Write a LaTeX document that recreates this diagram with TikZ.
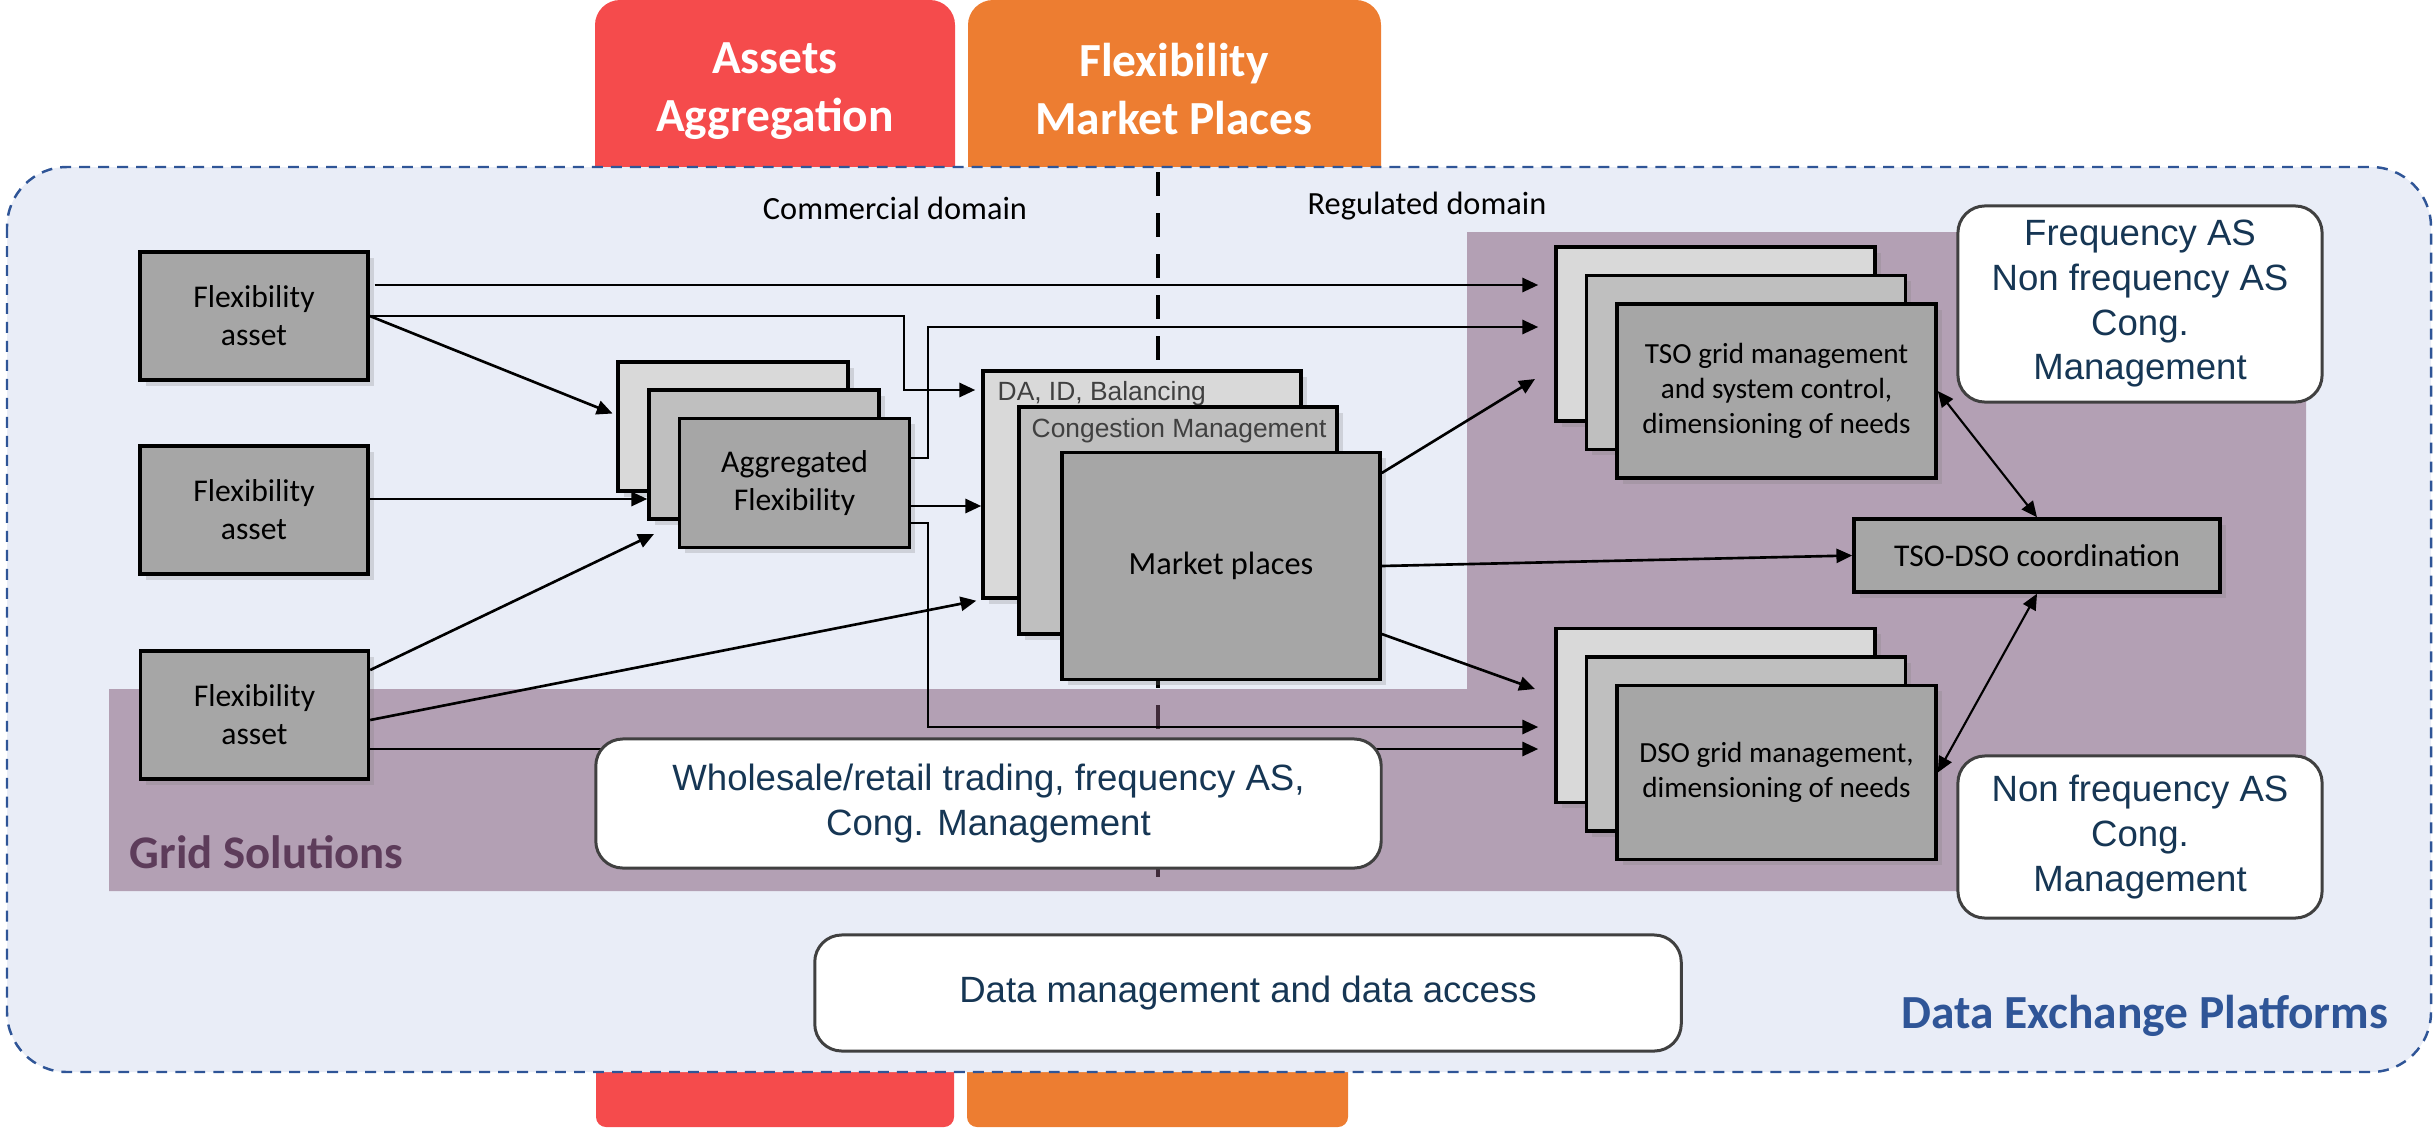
\documentclass[tikz,border=0pt]{standalone}
\usepackage{fontspec}
\setmainfont{Carlito}
\newfontfamily\arialfont{Liberation Sans}
\usetikzlibrary{arrows.meta,shadows}
\definecolor{frameblue}{RGB}{47,85,151}
\definecolor{paleblue}{RGB}{233,237,247}
\definecolor{gridpurple}{RGB}{127,85,115}
\definecolor{gridtext}{RGB}{93,60,90}
\definecolor{aggred}{RGB}{245,75,76}
\definecolor{mktorange}{RGB}{237,125,49}
\definecolor{navytext}{RGB}{22,54,84}
\definecolor{infogrey}{RGB}{64,64,64}
\definecolor{labelgrey}{RGB}{64,64,64}
\definecolor{greyA}{RGB}{166,166,166}
\definecolor{greyB}{RGB}{191,191,191}
\definecolor{greyC}{RGB}{217,217,217}

\begin{document}
\begin{tikzpicture}[x=0.01cm,y=-0.01cm,every text node part/.style={align=center},
box/.style={draw=black,line width=0.95pt,inner sep=0pt,drop shadow={shadow xshift=1.6pt,shadow yshift=-1.6pt,opacity=0.25}},
flexbox/.style={box,fill=greyA,minimum width=2.28cm,minimum height=1.28cm,font=\fontsize{9}{10.8}\selectfont},
aggbox/.style={box,minimum width=2.3cm,minimum height=1.29cm,font=\fontsize{9}{10.8}\selectfont},
mktbox/.style={box,minimum width=3.18cm,minimum height=2.27cm,font=\fontsize{9.2}{11}\selectfont},
gridbox/.style={box,minimum width=3.19cm,minimum height=1.74cm,font=\fontsize{8.3}{9.9}\selectfont},
infobox/.style={draw=infogrey,line width=0.85pt,fill=white,rounded corners=0.27cm,text=navytext,inner sep=0pt,font=\arialfont\fontsize{10.4}{12.7}\selectfont},
mktlabel/.style={anchor=base west,inner sep=0pt,text=labelgrey,font=\arialfont\fontsize{7.5}{9}\selectfont},
headtext/.style={text=white,font=\fontsize{13.5}{16.4}\selectfont\bfseries},
domaintext/.style={anchor=base,font=\fontsize{9.2}{11}\selectfont},
arr/.style={-{Triangle[length=4.5pt,width=4pt]},line width=0.75pt},
darr/.style={{Triangle[length=4.5pt,width=4pt]}-{Triangle[length=4.5pt,width=4pt]},line width=0.6pt}]
\useasboundingbox (0,0) rectangle (2433,1130);
\fill[aggred,rounded corners=0.25cm] (595,0) rectangle (955,220);
\fill[mktorange,rounded corners=0.25cm] (968,0) rectangle (1381,220);
\fill[aggred,rounded corners=0.1cm] (596,1030) rectangle (954,1127);
\fill[mktorange,rounded corners=0.1cm] (967,1030) rectangle (1348,1127);
\draw[frameblue,fill=paleblue,line width=0.7pt,dash pattern=on 3.1pt off 2.3pt,rounded corners=0.6cm] (7,167) rectangle (2431,1072);
\node[headtext] (aggtitle) at (775,91) {Assets\\Aggregation};
\node[headtext] (mkttitle) at (1174,89) {Flexibility\\Market Places};
\draw[line width=1.4pt,dash pattern=on 0.24cm off 0.17cm] (1158,172) -- (1158,877);
\fill[gridpurple,fill opacity=0.5] (109,689) -- (1467,689) -- (1467,232) -- (2306,232) -- (2306,891) -- (109,891) -- cycle;
\node[anchor=base west,inner sep=0pt,text=gridtext,font=\fontsize{13.3}{16}\selectfont\bfseries] (gridlabel) at (129,868) {Grid Solutions};
\node[anchor=base east,inner sep=0pt,text=frameblue,font=\fontsize{13.5}{16}\selectfont\bfseries] (dxplabel) at (2389,1028) {Data Exchange Platforms};
\node[domaintext] (commercial) at (895,219) {Commercial domain};
\node[domaintext] (regulated) at (1427,214) {Regulated domain};
\node[flexbox] (flexA) at (254,316) {Flexibility\\asset};
\node[flexbox] (flexB) at (254,510) {Flexibility\\asset};
\node[flexbox] (flexC) at (254.5,715) {Flexibility\\asset};
\node[aggbox,fill=greyC] (aggback) at (733,426.5) {};
\node[aggbox,fill=greyB] (aggmid) at (764,454.5) {};
\node[aggbox,fill=greyA] (aggfront) at (794.5,483) {Aggregated\\Flexibility};
\node[mktbox,fill=greyC] (da) at (1142,484.5) {};
\node[mktlabel] (dalabel) at (997,400) {DA, ID, Balancing};
\node[mktbox,fill=greyB] (cong) at (1178,520.5) {};
\node[mktlabel] (conglabel) at (1031,437) {Congestion Management};
\node[mktbox,fill=greyA] (market) at (1221,566) {Market places};
\node[gridbox,fill=greyC] (tsoback) at (1715.5,334) {};
\node[gridbox,fill=greyB] (tsomid) at (1746,362.5) {};
\node[gridbox,fill=greyA] (tsofront) at (1776.5,391) {TSO grid management\\and system control,\\dimensioning of needs};
\node[gridbox,fill=greyC] (dsoback) at (1715.5,715.5) {};
\node[gridbox,fill=greyB] (dsomid) at (1746,744) {};
\node[gridbox,fill=greyA] (dsofront) at (1776.5,772.5) {DSO grid management,\\dimensioning of needs};
\node[box,fill=greyA,minimum width=3.66cm,minimum height=0.73cm,font=\fontsize{9}{11}\selectfont] (tsodso) at (2037,555.5) {TSO-DSO coordination};
\coordinate (aggin) at (654,534);
\coordinate (tsoin) at (1535,379);
\coordinate (dsoin) at (1535,689);
\draw[arr,shorten <=0.05cm,shorten >=0.16cm] (flexA.east |- 0,285) -- (tsoback.west |- 0,285);
\draw[arr,shorten >=0.06cm] (flexA.east) -| (904,390) -- (da.west |- 0,390);
\draw[arr,shorten >=0.04cm] (flexA.east) -- (aggback.west |- 0,415);
\draw[arr] (flexB.east |- 0,499) -- (aggmid.west |- 0,499);
\draw[arr] (flexC.east |- 0,670) -- (aggin);
\draw[arr,shorten >=0.05cm] (flexC.east |- 0,720) -- (da.south west);
\draw[arr,shorten >=0.16cm] (flexC.east |- 0,749) -- (dsoback.west |- 0,749);
\draw[arr,shorten >=0.16cm] (aggfront.east |- 0,458) -| (928,327) -- (tsoback.west |- 0,327);
\draw[arr] (aggfront.east |- 0,506) -- (da.west |- 0,506);
\draw[arr,shorten >=0.16cm] (aggfront.east |- 0,523) -| (928,727) -- (dsoback.west |- 0,727);
\draw[arr] (market.east |- 0,473) -- (tsoin);
\draw[arr] (market.east) -- (tsodso.west);
\draw[arr] (market.east |- 0,634) -- (dsoin);
\draw[darr] (tsofront.east) -- (tsodso.north);
\draw[darr] (dsofront.east) -- (tsodso.south);
\node[infobox,minimum width=3.64cm,minimum height=1.96cm] (freq) at (2140,304) {Frequency AS\\Non frequency AS\\Cong.\\Management};
\node[infobox,minimum width=3.64cm,minimum height=1.62cm] (nonfreq) at (2140,837) {Non frequency AS\\Cong.\\Management};
\node[infobox,minimum width=7.85cm,minimum height=1.29cm] (trading) at (988.5,803.5) {Wholesale/retail trading, frequency AS,\\Cong. Management};
\node[infobox,minimum width=8.66cm,minimum height=1.16cm] (datamgmt) at (1248,993) {Data management and data access};
\end{tikzpicture}
\end{document}
